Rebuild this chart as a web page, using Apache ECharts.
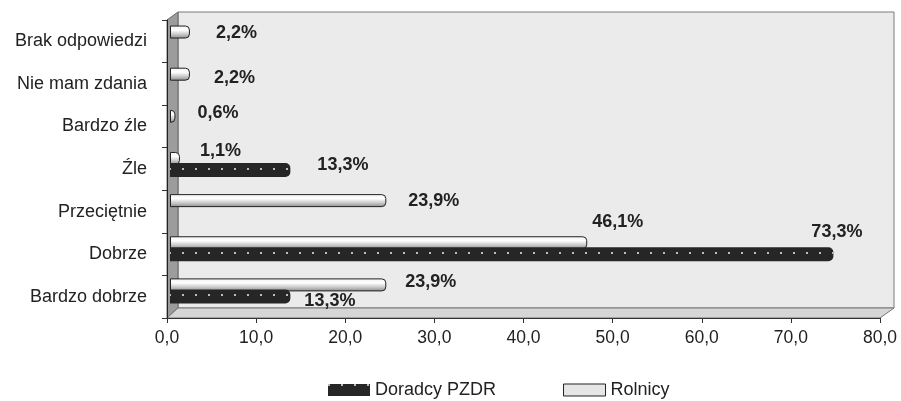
<!DOCTYPE html>
<html><head><meta charset="utf-8">
<script src="https://cdn.jsdelivr.net/npm/echarts@6/dist/echarts.min.js"></script>
<style>html,body{margin:0;padding:0;background:#fff}#c{width:901px;height:401px}</style>
</head><body><div id="c"></div>
<script>
// ---- data ----
const categories = ['Bardzo dobrze','Dobrze','Przeciętnie','Źle','Bardzo źle','Nie mam zdania','Brak odpowiedzi'];
const rolnicy = [23.9, 46.1, 23.9, 1.1, 0.6, 2.2, 2.2];
const doradcy = [13.3, 73.3, 0, 13.3, 0, 0, 0];
const seriesNames = ['Doradcy PZDR', 'Rolnicy'];
const xMin = 0, xMax = 80, xStep = 10;

// ---- layout / style ----
const FONT = 'Liberation Sans, Arial, sans-serif';
const W = 901, H = 401;
const G = {left:167, right:21, top:20, bottom:83};
const L = G.left, R = W - G.right, T = G.top, B = H - G.bottom;
const rolLabelOff = [[19,-3],[5,-21],[22,0],[20,-7],[22,-3],[24,4],[26,1]];
const dorLabelOff = [[14,5],[-22,-22],[0,0],[27,-5],[0,0],[0,0],[0,0]];
const fmtPct = v => v.toFixed(1).replace('.', ',') + '%';
const fmtAxis = v => Number(v).toFixed(1).replace('.', ',');

const labelBase = {show:true, position:'right', distance:0, fontSize:18, fontWeight:'bold', color:'#222', fontFamily:FONT,
  formatter: p => fmtPct(p.value)};

const chart = echarts.init(document.getElementById('c'), null, {renderer:'canvas'});
chart.setOption({
  animation:false,
  backgroundColor:'#ffffff',
  textStyle:{fontFamily:FONT},
  grid:[
    {left:G.left, right:G.right, top:G.top, bottom:G.bottom},
    {left:170, right:7, top:17, bottom:89}
  ],
  xAxis:[
    {type:'value', gridIndex:0, min:xMin, max:xMax, interval:xStep,
     axisLine:{show:true, lineStyle:{color:'#333', width:1}},
     axisTick:{show:true, length:5, lineStyle:{color:'#333'}},
     splitLine:{show:false},
     axisLabel:{formatter:fmtAxis, fontSize:17.5, color:'#222', margin:11, fontFamily:FONT}},
    {type:'value', gridIndex:1, min:xMin, max:xMax, show:false, splitLine:{show:false}}
  ],
  yAxis:[
    {type:'category', gridIndex:0, data:categories,
     axisLine:{show:true, lineStyle:{color:'#222', width:1}},
     axisTick:{show:true, length:5, inside:false, lineStyle:{color:'#333'}},
     axisLabel:{fontSize:18, color:'#222', margin:20, fontFamily:FONT}},
    {type:'category', gridIndex:1, data:categories, show:false}
  ],
  legend:{
    left:323, top:376, itemWidth:42, itemHeight:12, itemGap:67,
    textStyle:{fontSize:18, color:'#222', fontFamily:FONT},
    data:[
      {name:seriesNames[0], icon:'rect'},
      {name:seriesNames[1], icon:'rect', itemStyle:{color:'#e6e6e6', borderColor:'#222', borderWidth:1}}
    ]
  },
  graphic:[
    {type:'polygon', z:-10, shape:{points:[[L+11,T-8],[R+14,T-8],[R+14,B-10],[L+11,B-10]]},
     style:{fill:'#ebebeb', stroke:'#7a7a7a', lineWidth:1}},
    {type:'polygon', z:-9, shape:{points:[[L,T],[L+11,T-8],[L+11,B-10],[L,B]]},
     style:{fill:'#9c9c9c', stroke:'#666', lineWidth:1}},
    {type:'polygon', z:-9, shape:{points:[[L,B],[L+11,B-10],[R+14,B-10],[R,B]]},
     style:{fill:'#d6d6d6', stroke:'#777', lineWidth:1}}
  ],
  series:[
    {name:seriesNames[1], type:'bar', xAxisIndex:1, yAxisIndex:1, barWidth:13, barGap:'-15%',
     itemStyle:{
       color:new echarts.graphic.LinearGradient(0,0,0,1,[
         {offset:0, color:'#f2f2f2'},{offset:0.35, color:'#ffffff'},{offset:0.7, color:'#c4c4c4'},{offset:1, color:'#8a8a8a'}]),
       borderColor:'#222', borderWidth:1, borderRadius:[0,4,4,0]},
     data: rolnicy.map((v,i)=>({value:v, label:Object.assign({}, labelBase, {show:v>0, offset:rolLabelOff[i]})}))
    },
    {name:seriesNames[0], type:'bar', xAxisIndex:1, yAxisIndex:1, barWidth:14, barGap:'-15%',
     itemStyle:{color:'#262626', borderWidth:0, borderRadius:[0,5,5,0],
       decal:{symbol:'rect', symbolSize:1, color:'#bdbdbd', dashArrayX:[2,11], dashArrayY:[2,12], rotation:0}},
     data: doradcy.map((v,i)=>({value:v, label:Object.assign({}, labelBase, {show:v>0, offset:dorLabelOff[i]})}))
    }
  ]
});
</script></body></html>
